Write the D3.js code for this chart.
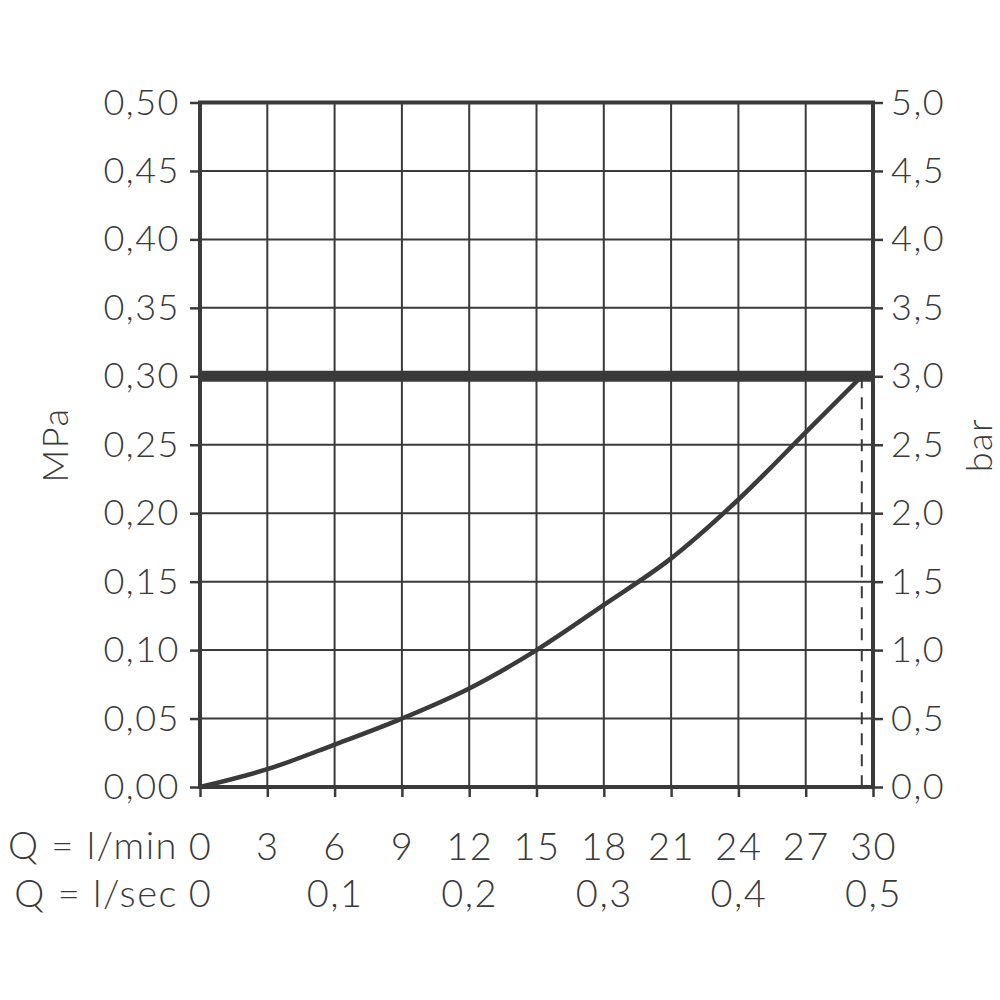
<!DOCTYPE html>
<html><head><meta charset="utf-8">
<script src="https://cdn.jsdelivr.net/npm/d3@7"></script>
<style>body{margin:0;background:#fff}svg{display:block}text{font-family:Lato,"Open Sans",sans-serif;fill:#3a3a3a;font-weight:300;letter-spacing:1.5px}</style>
</head><body>
<script>
const flowLmin = [0, 3, 6, 9, 12, 15, 18, 21, 24, 27, 29.5];
const pressureMPa = [0, 0.013, 0.031, 0.050, 0.072, 0.100, 0.133, 0.167, 0.210, 0.259, 0.300];
const limitMPa = 0.30;
const limitFlow = 29.5;
const xTicksMin = [0, 3, 6, 9, 12, 15, 18, 21, 24, 27, 30];
const xTicksSec = [0, 0.1, 0.2, 0.3, 0.4, 0.5];
const yTicksMPa = [0, 0.05, 0.10, 0.15, 0.20, 0.25, 0.30, 0.35, 0.40, 0.45, 0.50];
const yTicksBar = [0, 0.5, 1.0, 1.5, 2.0, 2.5, 3.0, 3.5, 4.0, 4.5, 5.0];

const W = 1000, H = 1000;
const L = 200, R = 873, T = 102.5, B = 787;
const svg = d3.select("body").append("svg").attr("width", W).attr("height", H);
const x = d3.scaleLinear().domain([0, 30]).range([L, R]);
const xs = d3.scaleLinear().domain([0, 0.5]).range([L, R]);
const y = d3.scaleLinear().domain([0, 0.5]).range([B, T]);
const yb = d3.scaleLinear().domain([0, 5]).range([B, T]);
const ink = "#3a3a3a";

// grid
svg.append("g").selectAll("line").data(xTicksMin.slice(1, -1)).join("line")
  .attr("x1", d => x(d)).attr("x2", d => x(d)).attr("y1", T).attr("y2", B)
  .attr("stroke", ink).attr("stroke-width", 2);
svg.append("g").selectAll("line").data(yTicksMPa.slice(1, -1)).join("line")
  .attr("x1", L).attr("x2", R).attr("y1", d => y(d)).attr("y2", d => y(d))
  .attr("stroke", ink).attr("stroke-width", 2);

// axes
const fmt = (dec) => d => d.toFixed(dec).replace(".", ",");
const left = svg.append("g").attr("transform", `translate(${L},0)`)
  .call(d3.axisLeft(y).tickValues(yTicksMPa).tickFormat(fmt(2)).tickSize(10).tickPadding(10));
const right = svg.append("g").attr("transform", `translate(${R},0)`)
  .call(d3.axisRight(yb).tickValues(yTicksBar).tickFormat(fmt(1)).tickSize(10).tickPadding(8));
const bottom = svg.append("g").attr("transform", `translate(0,${B})`)
  .call(d3.axisBottom(x).tickValues(xTicksMin).tickFormat(d => d).tickSize(10).tickPadding(36));
const bottom2 = svg.append("g").attr("transform", `translate(0,${B})`)
  .call(d3.axisBottom(xs).tickValues(xTicksSec).tickFormat(d => d === 0 ? "0" : fmt(1)(d)).tickSize(0).tickPadding(93));
[left, right, bottom, bottom2].forEach(g => {
  g.select(".domain").remove();
  g.selectAll(".tick line").attr("stroke", ink).attr("stroke-width", 2.5);
  g.selectAll("text").attr("font-size", 36).attr("fill", ink).attr("font-family", null);
});
bottom.selectAll("text").attr("font-size", 38);
bottom2.selectAll("text").attr("font-size", 38);

// frame
svg.append("rect").attr("x", L).attr("y", T).attr("width", R - L).attr("height", B - T)
  .attr("fill", "none").attr("stroke", ink).attr("stroke-width", 4);

// limit line
svg.append("line").attr("x1", L).attr("x2", R).attr("y1", y(limitMPa)).attr("y2", y(limitMPa))
  .attr("stroke", ink).attr("stroke-width", 11);
svg.append("line").attr("x1", x(limitFlow)).attr("x2", x(limitFlow)).attr("y1", y(limitMPa)).attr("y2", B)
  .attr("stroke", ink).attr("stroke-width", 2).attr("stroke-dasharray", "12,9");

// curve
svg.append("path").datum(flowLmin.map((f, i) => [f, pressureMPa[i]]))
  .attr("d", d3.line().x(d => x(d[0])).y(d => y(d[1])).curve(d3.curveMonotoneX))
  .attr("fill", "none").attr("stroke", ink).attr("stroke-width", 4.5);

// labels
svg.append("text").attr("x", 178).attr("y", 859).attr("text-anchor", "end").attr("font-size", 38).text("Q = l/min");
svg.append("text").attr("x", 178).attr("y", 907).attr("text-anchor", "end").attr("font-size", 38).text("Q = l/sec");
svg.append("text").attr("transform", "translate(68,445) rotate(-90)").attr("text-anchor", "middle").attr("font-size", 36).text("MPa");
svg.append("text").attr("transform", "translate(992,445) rotate(-90)").attr("text-anchor", "middle").attr("font-size", 36).text("bar");
</script>
</body></html>
